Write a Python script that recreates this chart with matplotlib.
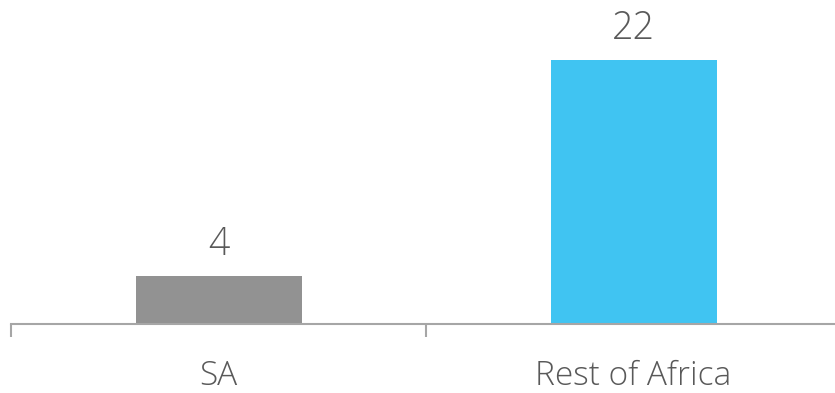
import matplotlib
matplotlib.use("Agg")
import matplotlib.pyplot as plt

categories = ["SA", "Rest of Africa"]
values = [4, 22]
bar_colors = ["#929292", "#40c4f2"]

plt.rcParams["font.family"] = ["Open Sans", "DejaVu Sans"]
plt.rcParams["font.weight"] = "light"
text_color = "#595959"
axis_color = "#a6a6a6"

fig = plt.figure(figsize=(8.35, 3.93), dpi=100)
# axes spans one category slot on each side; right edge runs past the canvas
ax = fig.add_axes([11 / 835, 69 / 393, 830 / 835, 324 / 393])

x = list(range(len(categories)))
ax.bar(x, values, width=0.4, color=bar_colors)
for xi, v in zip(x, values):
    ax.annotate(str(v), (xi, v), xytext=(0, 15), textcoords="offset points",
                ha="center", va="baseline", fontsize=27, color=text_color,
                fontweight="light")

ax.set_xlim(-0.5, len(categories) - 0.5)
ax.set_ylim(0, 27)

for s in ["top", "right", "left"]:
    ax.spines[s].set_visible(False)
ax.spines["bottom"].set_color(axis_color)
ax.spines["bottom"].set_linewidth(1.5)

ax.set_yticks([])
ax.set_xticks([i - 0.5 for i in range(len(categories) + 1)])
ax.set_xticklabels([])
ax.tick_params(axis="x", which="major", direction="out", length=9.5,
               width=1.5, color=axis_color)

# category names centred under each bar
for xi, name in zip(x, categories):
    ax.annotate(name, (xi, 0), xycoords=("data", "axes fraction"),
                xytext=(0, -44), textcoords="offset points",
                ha="center", va="baseline", fontsize=24, color=text_color,
                fontweight="light", annotation_clip=False)

fig.savefig("out.png", dpi=100)
